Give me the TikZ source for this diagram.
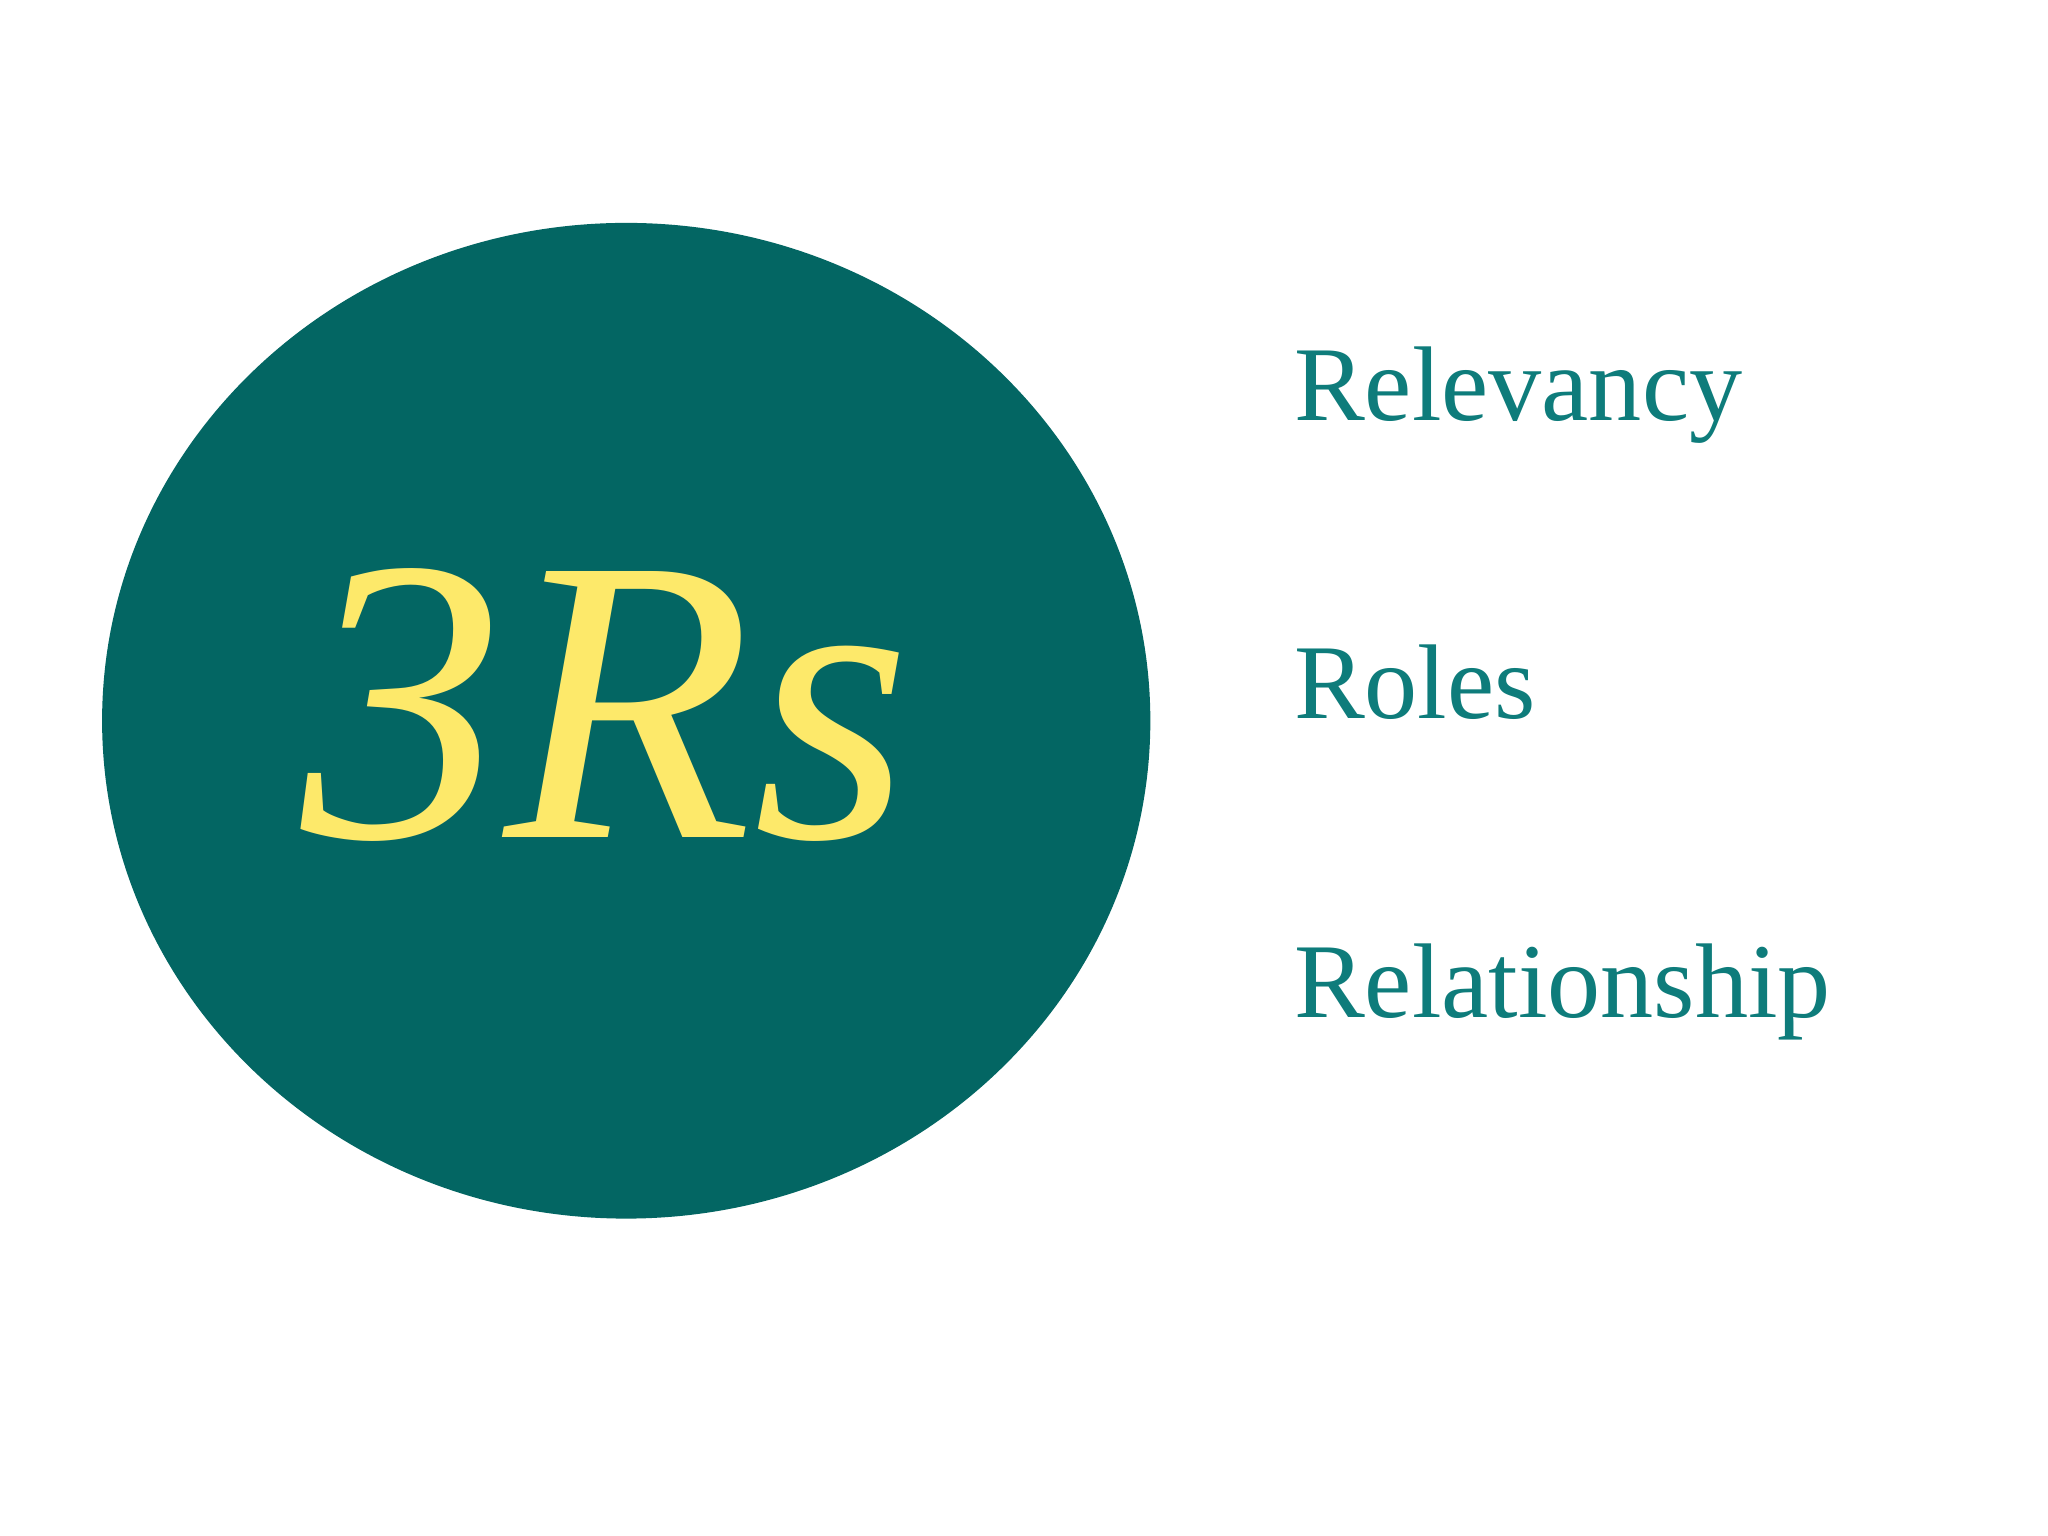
\documentclass[tikz,border=0pt]{standalone}
\usepackage{fontspec}
\usetikzlibrary{shapes.geometric}
\setmainfont{Liberation Serif}
\definecolor{teal1}{HTML}{036663}
\definecolor{yel}{HTML}{FDE96A}
\definecolor{tealtxt}{HTML}{0E7C7B}
\begin{document}
\begin{tikzpicture}[x=0.01cm,y=-0.01cm,
  item/.style={anchor=base west,text=tealtxt,font=\fontsize{23}{26}\selectfont,inner sep=0}]
\useasboundingbox (0,0) rectangle (1560,1170);
\fill[white] (0,0) rectangle (1560,1170);
\node[ellipse,fill=teal1,minimum width=7.98cm,minimum height=7.58cm,inner sep=0] (c) at (477,549) {};
\node[text=yel,anchor=base,inner sep=0,font=\fontsize{88}{90}\selectfont\itshape] (t) at (462,638) {3Rs};
\node[item] (r1) at (985,320) {Relevancy};
\node[item] (r2) at (985,547) {Roles};
\node[item] (r3) at (985,775) {Relationship};
\end{tikzpicture}
\end{document}
